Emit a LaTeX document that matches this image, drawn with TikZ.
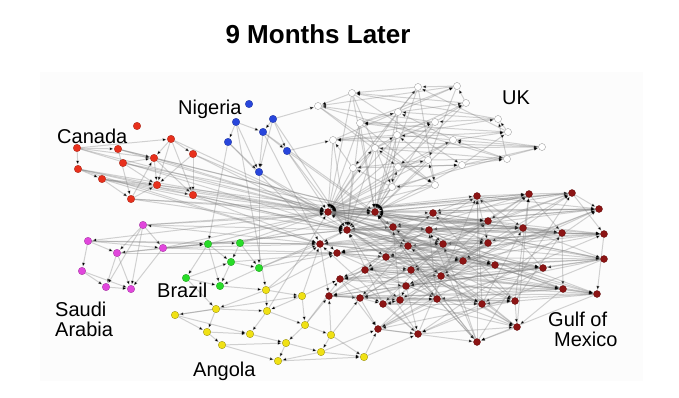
\documentclass[tikz,border=0pt]{standalone}
\usepackage{fontspec}
\setmainfont{Liberation Sans}
\usetikzlibrary{arrows.meta}
\definecolor{canadared}{RGB}{232,48,28}
\definecolor{nigeriablue}{RGB}{40,70,220}
\definecolor{saudipink}{RGB}{225,70,220}
\definecolor{brazilgreen}{RGB}{40,220,40}
\definecolor{angolayellow}{RGB}{240,225,20}
\definecolor{gulfred}{RGB}{140,20,20}
\pgfdeclarelayer{panel}
\pgfdeclarelayer{links}
\pgfsetlayers{panel,links,main}
\begin{document}
\begin{tikzpicture}[x=1pt,y=-1pt,
		oil/.style={circle,inner sep=0pt,minimum size=7.5pt,line width=0.3pt},
		link/.style={draw=black!50,draw opacity=0.35,line width=1pt,-{Latex[length=4.5pt,width=3.6pt,color=black]}},
		region/.style={font=\fontsize{20}{20}\selectfont,inner sep=0pt}]
	\useasboundingbox (0,0) rectangle (679,398);
	\begin{pgfonlayer}{panel}
		\fill[black!1] (40,72) rectangle (643,381);
	\end{pgfonlayer}
	% title and regions
	\node[font=\bfseries\fontsize{26}{28}\selectfont,anchor=base] (title) at (318,44) {9 Months Later};
	\node[region,anchor=base west] (canada) at (57,143.5) {Canada};
	\node[region,anchor=base west] (nigeria) at (178,114.5) {Nigeria};
	\node[region,anchor=base west] (uk) at (502,104.5) {UK};
	\node[region,anchor=north west,align=left] (saudi) at (55,302) {Saudi\\Arabia};
	\node[region,anchor=base west] (brazil) at (157,297.5) {Brazil};
	\node[region,anchor=base west] (angola) at (193,376.5) {Angola};
	\node[region,anchor=north west,align=left] (gulf) at (548,312) {Gulf of\\\hspace{6pt}Mexico};
	% fields
	\foreach \n/\x/\y in {c1/137/126,c2/171/139,c3/77/148,c4/118/149,c5/193/154,c6/154/158,
			c7/123/163,c8/78/169,c9/102/179,c10/157/185,c11/193/195,c12/131/199}
		\node[oil,fill=canadared,draw=canadared!70!black] (\n) at (\x,\y) {};
	\foreach \n/\x/\y in {n1/249/104,n2/236/122,n3/273/119,n4/263/132,n5/228/142,n6/287/151,n7/259/172}
		\node[oil,fill=nigeriablue,draw=nigeriablue!70!black] (\n) at (\x,\y) {};
	\foreach \n/\x/\y in {s1/143/225,s2/88/241,s3/163/248,s4/117/253,s5/82/271,s6/106/287,s7/131/289}
		\node[oil,fill=saudipink,draw=saudipink!70!black] (\n) at (\x,\y) {};
	\foreach \n/\x/\y in {b1/208/244,b2/240/243,b3/231/262,b4/259/268,b5/186/278,b6/220/286}
		\node[oil,fill=brazilgreen,draw=brazilgreen!70!black] (\n) at (\x,\y) {};
	\foreach \n/\x/\y in {a1/266/290,a2/302/296,a3/216/309,a4/267/311,a5/175/315,a6/305/325,a7/207/332,
			a8/250/334,a9/331/335,a10/222/345,a11/286/343,a12/321/352,a13/278/361,a14/364/357}
		\node[oil,fill=angolayellow,draw=angolayellow!60!black] (\n) at (\x,\y) {};
	\foreach \n/\x/\y in {g1/477/196,g2/529/194,g3/572/193,g4/599/209,g5/328/212,g6/375/212,g7/433/213,
			g8/488/221,g9/347/230,g10/393/227,g11/429/230,g12/523/228,g13/562/233,g14/604/234,
			g15/320/244,g16/408/246,g17/443/244,g18/488/243,g19/337/253,g20/386/257,g21/463/261,
			g22/495/265,g23/604/259,g24/365/270,g25/411/270,g26/543/268,g27/441/276,g28/340/279,
			g29/406/286,g30/563/289,g31/597/294,g32/329/296,g33/360/298,g34/383/304,g35/400/300,
			g36/437/299,g37/482/304,g38/515/301,g39/378/329,g40/418/334,g41/517/327,g42/477/342}
		\node[oil,minimum size=7pt,fill=gulfred,draw=gulfred!70!black] (\n) at (\x,\y) {};
	\foreach \n/\x/\y in {u1/318/106,u2/352/93,u3/418/87,u4/457/86,u5/466/103,u6/398/112,u7/360/123,
			u8/435/122,u9/498/119,u10/508/132,u11/333/140,u12/397/135,u13/453/140,u14/542/147,
			u15/375/148,u16/507/159,u17/462/165,u18/353/168,u19/428/160,u20/398/167,u21/392/187,u22/435/185}
		\node[oil,minimum size=7pt,fill=white,draw=black!45] (\n) at (\x,\y) {};
	% links
	\begin{pgfonlayer}{links}
		\foreach \a/\b in {c3/c8,c3/c4,c4/c6,c3/c6,c2/c6,c2/c10,c2/c11,c2/c5,c6/c10,c5/c11,c5/c10,c6/c11,
				c8/c9,c9/c10,c12/c10,c12/c6,c7/c6,c4/c12,c9/c11,c8/c10,c3/c2,c7/c10,c9/c12}
			\draw[link] (\a) -- (\b);
		\foreach \c in {c2,c3,c4,c5,c6,c7,c8,c9,c10,c11,c12}
			\draw[link] (\c) -- (g5);
		\foreach \c in {c3,c5,c8,c9,c11,c12}
			\draw[link] (\c) -- (g9);
		\foreach \c in {c4,c6,c7,c10,c12}
			\draw[link] (\c) -- (g6);
		\foreach \c in {c8,c9,c11}
			\draw[link] (\c) -- (g15);
		\foreach \a/\b in {n2/n5,n2/n4,n3/n4,n3/n6,n4/n7,n5/n7,n2/n7,n4/n6,n3/n7,n5/b1,n2/a1,n7/g5,n6/g5,
				n6/g9,n4/g15,n3/g9,n7/b4,n6/u11,n3/u1,n5/g19,n4/g6,n6/g10,n7/g9}
			\draw[link] (\a) -- (\b);
		\foreach \a/\b in {s1/s3,s1/s4,s1/s7,s2/s4,s2/s5,s2/s3,s4/s6,s4/s7,s5/s6,s5/s7,s3/s7,s6/s7,s3/s4,s1/s6,
				s1/g5,s3/g5,s3/g15,s2/b1,s3/b1,s4/b1,g5/s2,g15/s1,s3/g9,s1/g9,s2/g15,s4/g19,s3/g19,s1/g6}
			\draw[link] (\a) -- (\b);
		\foreach \a/\b in {b1/b2,b1/b3,b1/b5,b1/b6,b2/b3,b2/b4,b3/b4,b3/b6,b5/b6,b4/b6,b5/b3,
				b1/g5,b2/g5,b2/g15,b4/g15,b4/g9,b3/g19,b5/a3,b6/a1,b2/g6,b1/g9,b4/g19}
			\draw[link] (\a) -- (\b);
		\foreach \a/\b in {a1/a2,a1/a3,a1/a4,a2/a4,a2/a6,a3/a4,a3/a5,a3/a7,a4/a8,a5/a7,a5/a8,a6/a9,a6/a11,
				a7/a8,a7/a10,a8/a11,a9/a12,a10/a13,a10/a11,a11/a13,a12/a13,a11/a12,a12/a14,a9/a14,a4/a6,
				a13/a14,a5/a2,a2/g15,a2/g28,a6/g32,a9/g32,a14/g39,a12/g39,a1/g19,a4/g5,a6/g28,a9/g33,a14/g40,a1/g15}
			\draw[link] (\a) -- (\b);
		\foreach \i in {1,...,42}
			\foreach \k in {1,3,6,11,17} {
				\pgfmathtruncatemacro{\j}{mod(\i+\k-1,42)+1}
				\draw[link] (g\i) -- (g\j);
			}
		\foreach \g in {g1,g2,g3,g4,g8,g12,g13,g14,g18,g23,g26,g30,g31,g38}
			\draw[link] (g5) -- (\g);
		\foreach \g in {g2,g4,g12,g14,g17,g21,g22,g26,g31,g37,g41}
			\draw[link] (g9) -- (\g);
		\foreach \g in {g3,g13,g23,g27,g30,g36,g42}
			\draw[link] (\g) -- (g6);
		\foreach \i in {1,...,22}
			\foreach \k in {1,3,7} {
				\pgfmathtruncatemacro{\j}{mod(\i+\k-1,22)+1}
				\draw[link] (u\j) -- (u\i);
			}
		\foreach \u in {u2,u6,u7,u8,u11,u12,u13,u15,u17,u18,u19,u20,u21,u22}
			\draw[link] (\u) -- (g5);
		\foreach \u in {u2,u3,u6,u7,u8,u12,u13,u15,u17,u19,u20,u21,u22}
			\draw[link] (\u) -- (g6);
		\foreach \u in {u7,u11,u15,u18,u20}
			\draw[link] (\u) -- (g9);
	\end{pgfonlayer}
\end{tikzpicture}
\end{document}
